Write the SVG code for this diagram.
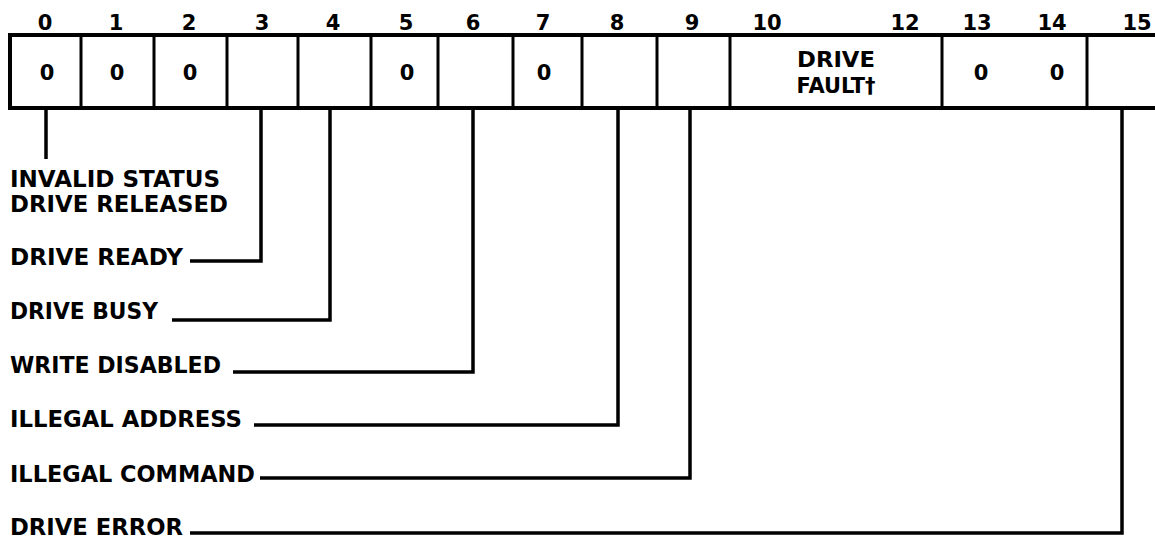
<svg xmlns="http://www.w3.org/2000/svg" width="1155" height="538" viewBox="0 0 1155 538">
<style>
text{font-family:"DejaVu Sans","Liberation Sans",Arial,sans-serif;font-weight:bold;fill:#000}
.outer{stroke:#000;stroke-width:4;fill:none}
.div{stroke:#000;stroke-width:3;fill:none}
.con{stroke:#000;stroke-width:3.5;fill:none}
</style>
<rect width="1155" height="538" fill="#fff"/>
<g id="bit-numbers" font-size="21" text-anchor="middle">
<text x="45" y="30">0</text>
<text x="116" y="30">1</text>
<text x="189" y="30">2</text>
<text x="262" y="30">3</text>
<text x="333" y="30">4</text>
<text x="406" y="30">5</text>
<text x="473" y="30">6</text>
<text x="543" y="30">7</text>
<text x="617" y="30">8</text>
<text x="692" y="30">9</text>
<text x="767" y="30">10</text>
<text x="905" y="30">12</text>
<text x="977" y="30">13</text>
<text x="1052" y="30">14</text>
<text x="1137" y="30">15</text>
</g>
<g id="register">
<path class="outer" d="M8 35H1160M8 108H1160M10 33V110"/>
<path class="div" d="M81 35V108M154 35V108M227 35V108M298 35V108M371 35V108M438 35V108M513 35V108M582 35V108M657 35V108M730 35V108M942 35V108M1087 35V108"/>
<g font-size="21" text-anchor="middle">
<text x="47" y="80">0</text>
<text x="117" y="80">0</text>
<text x="190" y="80">0</text>
<text x="407" y="80">0</text>
<text x="544" y="80">0</text>
<text x="981" y="80">0</text>
<text x="1057" y="80">0</text>
<text x="836" y="67" textLength="78" lengthAdjust="spacingAndGlyphs">DRIVE</text>
<text x="836" y="93" textLength="79" lengthAdjust="spacingAndGlyphs">FAULT†</text>
</g>
</g>
<g id="connectors">
<path class="con" d="M46 108V159"/>
<path class="con" d="M261 108V261H190"/>
<path class="con" d="M330 108V320H172"/>
<path class="con" d="M473 108V372H233"/>
<path class="con" d="M618 108V425H254"/>
<path class="con" d="M690 108V478H260"/>
<path class="con" d="M1122 108V533H190"/>
</g>
<g id="labels" font-size="23">
<g id="label-invalid-status"><text x="10" y="187" textLength="210" lengthAdjust="spacingAndGlyphs">INVALID STATUS</text></g>
<g id="label-drive-released"><text x="10" y="212" textLength="218" lengthAdjust="spacingAndGlyphs">DRIVE RELEASED</text></g>
<g id="label-drive-ready"><text x="10" y="265" textLength="173" lengthAdjust="spacingAndGlyphs">DRIVE READY</text></g>
<g id="label-drive-busy"><text x="10" y="319" textLength="148" lengthAdjust="spacingAndGlyphs">DRIVE BUSY</text></g>
<g id="label-write-disabled"><text x="10" y="373" textLength="211" lengthAdjust="spacingAndGlyphs">WRITE DISABLED</text></g>
<g id="label-illegal-address"><text x="10" y="427" textLength="232" lengthAdjust="spacingAndGlyphs">ILLEGAL ADDRESS</text></g>
<g id="label-illegal-command"><text x="10" y="482" textLength="245" lengthAdjust="spacingAndGlyphs">ILLEGAL COMMAND</text></g>
<g id="label-drive-error"><text x="10" y="535" textLength="173" lengthAdjust="spacingAndGlyphs">DRIVE ERROR</text></g>
</g>
</svg>
